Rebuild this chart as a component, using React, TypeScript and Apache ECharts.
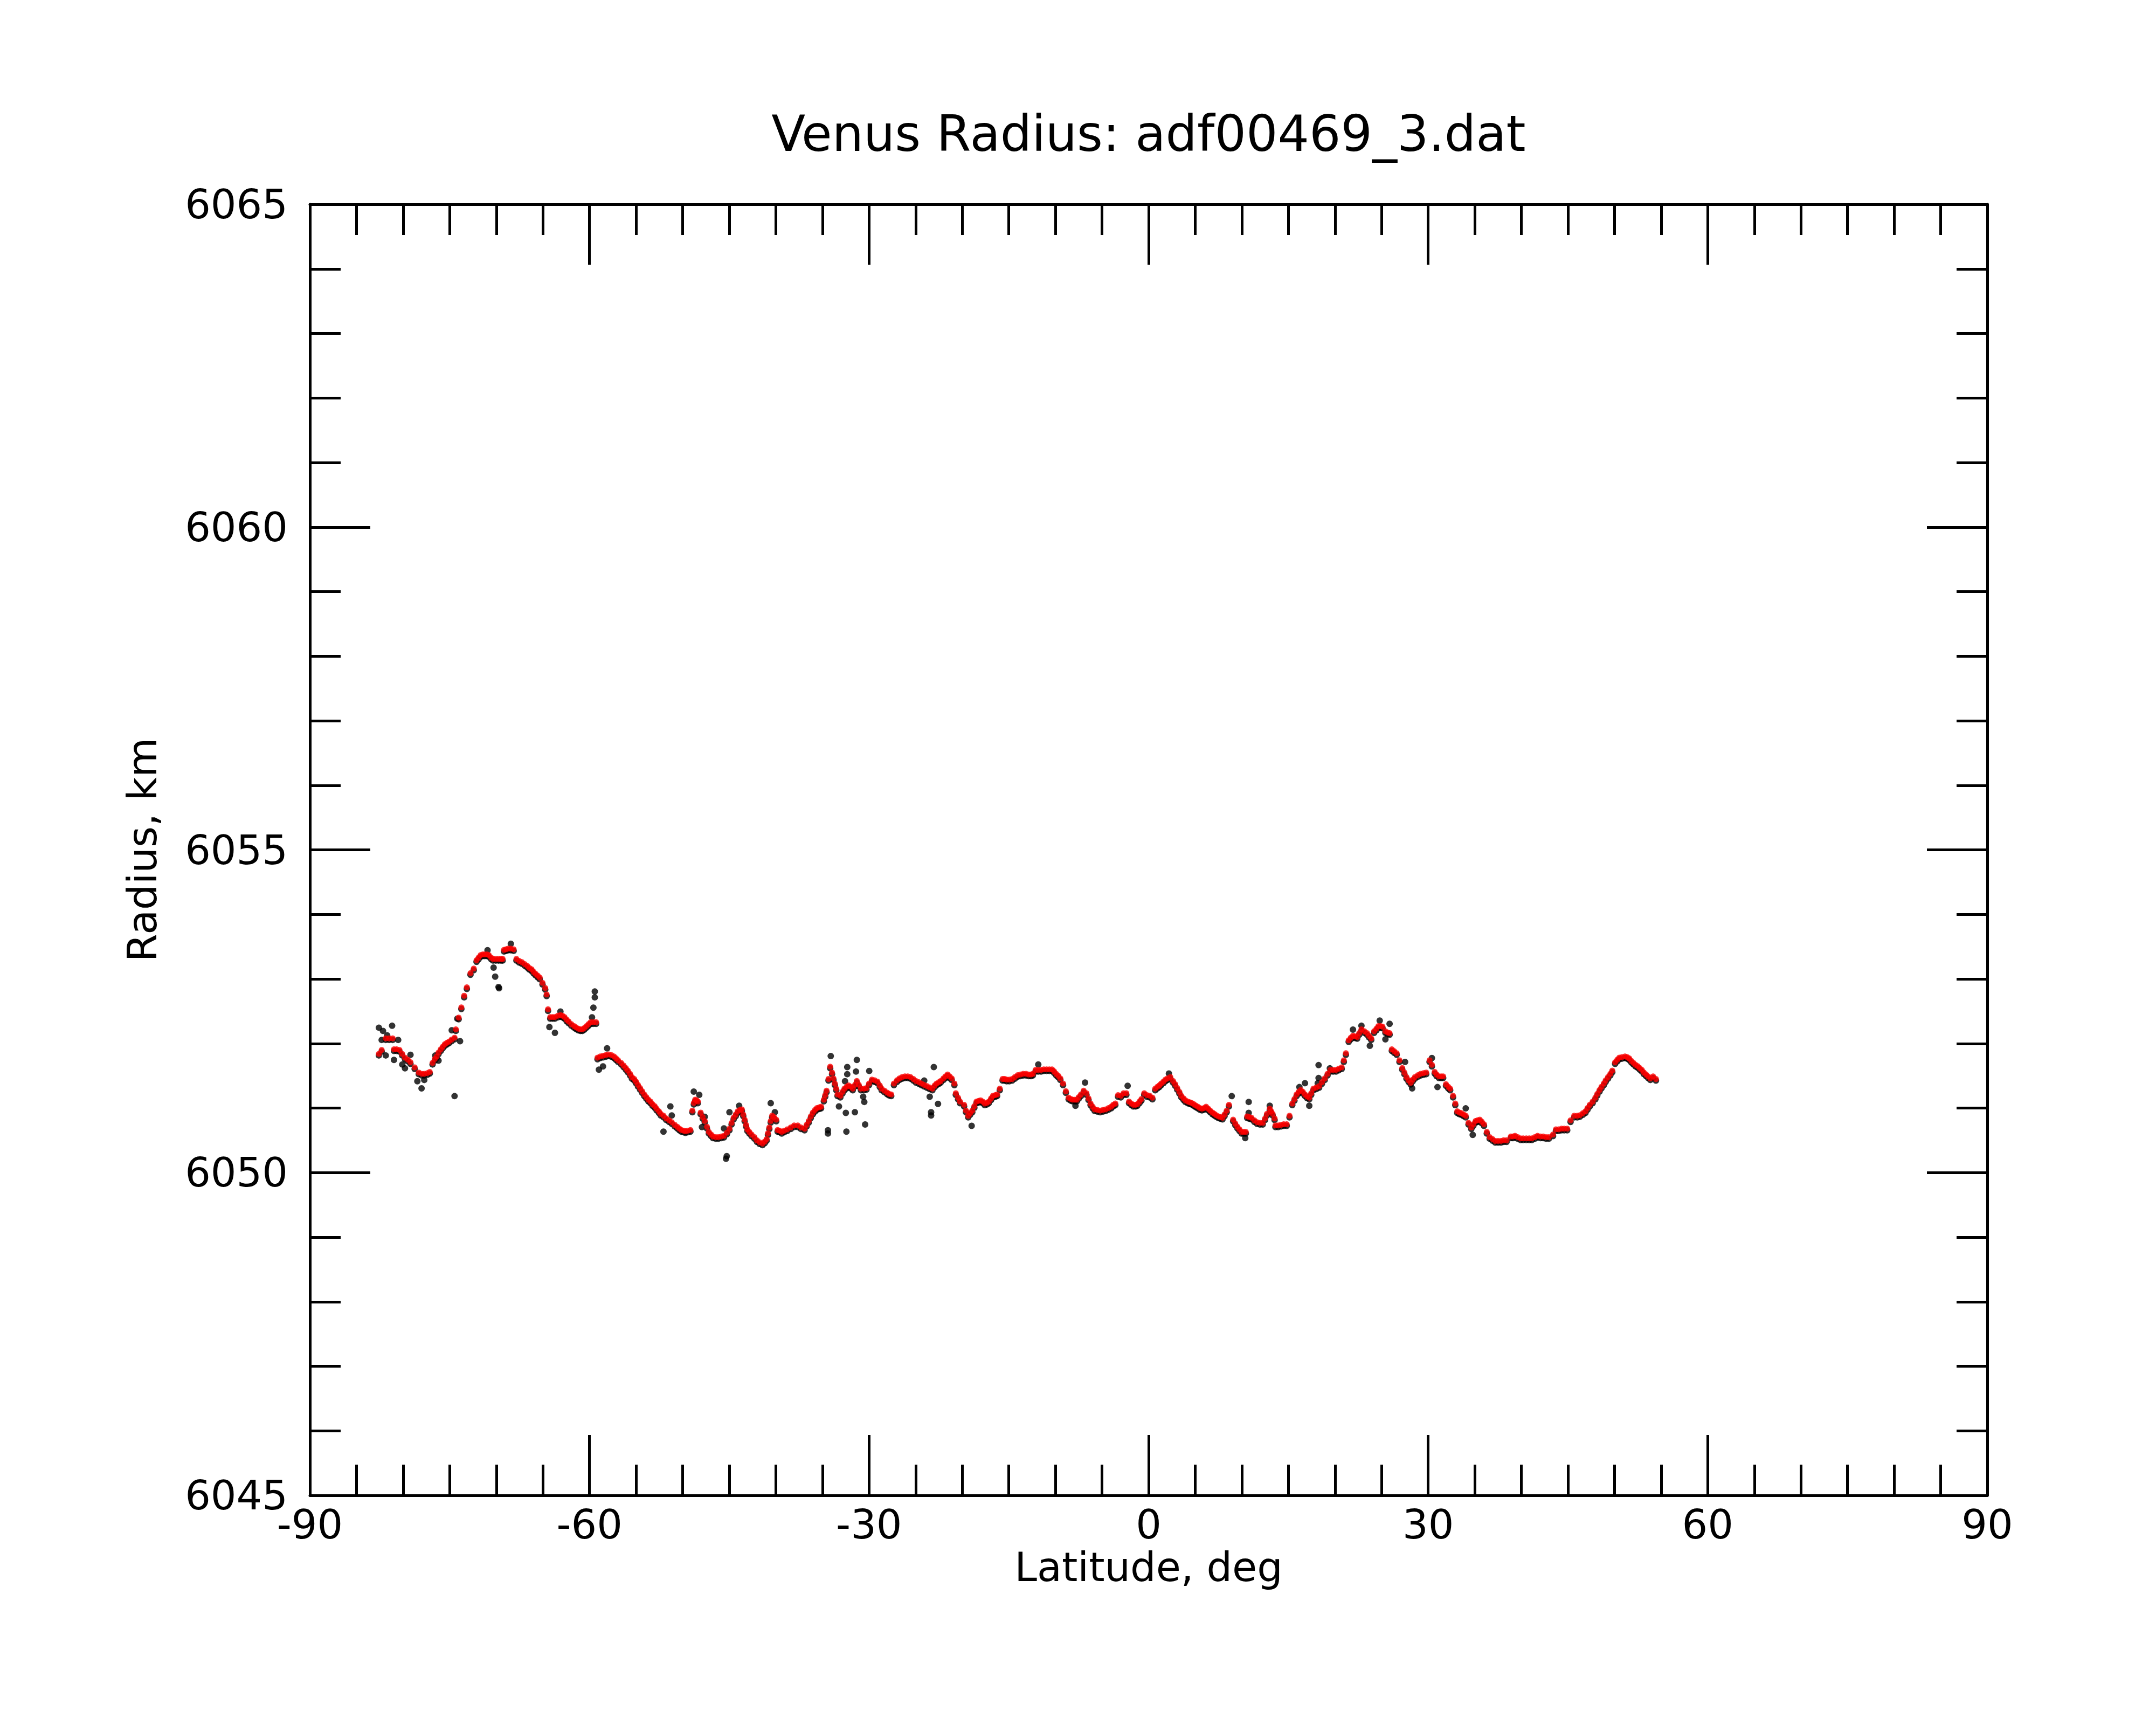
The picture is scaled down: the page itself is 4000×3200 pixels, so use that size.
import React, { useEffect, useRef } from "react";
import * as echarts from "echarts";

const titleText = "Venus Radius: adf00469_3.dat";
const xName = "Latitude, deg";
const yName = "Radius, km";
const xTicks = [-90, -60, -30, 0, 30, 60, 90];
const yTicks = [6045, 6050, 6055, 6060, 6065];

// Smoothed radius profile (red), [latitude, radius km]
const redSouth: number[][] = [
  [-82.6, 6051.84], [-82.3, 6051.9], [-81.86, 6052.08], [-81.5, 6052.08], [-81.12, 6052.08],
  [-80.98, 6051.91], [-80.7, 6051.91], [-80.39, 6051.9], [-80.1, 6051.84], [-79.8, 6051.78],
  [-79.5, 6051.75], [-79.21, 6051.71], [-78.76, 6051.63], [-78.32, 6051.55], [-78.0, 6051.53],
  [-77.73, 6051.53], [-77.4, 6051.54], [-77.14, 6051.56], [-76.84, 6051.7], [-76.6, 6051.76],
  [-76.4, 6051.8], [-76.2, 6051.86], [-75.96, 6051.91], [-75.75, 6051.95], [-75.52, 6051.99],
  [-75.3, 6052.01], [-75.08, 6052.03], [-74.8, 6052.06], [-74.48, 6052.09], [-74.34, 6052.22],
  [-74.04, 6052.4], [-73.75, 6052.56], [-73.45, 6052.74], [-73.16, 6052.87], [-72.77, 6053.09],
  [-72.42, 6053.16], [-72.12, 6053.29], [-71.9, 6053.33], [-71.68, 6053.37], [-71.45, 6053.38],
  [-71.24, 6053.38], [-71.0, 6053.38], [-70.8, 6053.37], [-70.55, 6053.33], [-70.35, 6053.31],
  [-70.05, 6053.31], [-69.76, 6053.31], [-69.5, 6053.31], [-69.32, 6053.31], [-69.17, 6053.45],
  [-68.95, 6053.46], [-68.73, 6053.47], [-68.45, 6053.47], [-68.14, 6053.46], [-67.84, 6053.31],
  [-67.55, 6053.28], [-67.26, 6053.26], [-66.95, 6053.23], [-66.67, 6053.2], [-66.45, 6053.17],
  [-66.22, 6053.15], [-66.0, 6053.11], [-65.78, 6053.08], [-65.55, 6053.05], [-65.34, 6053.02],
  [-65.04, 6052.94], [-64.75, 6052.86], [-64.6, 6052.76], [-64.45, 6052.53], [-64.21, 6052.41],
  [-63.95, 6052.41], [-63.71, 6052.41], [-63.4, 6052.43], [-63.12, 6052.44], [-62.9, 6052.43],
  [-62.68, 6052.41], [-62.45, 6052.37], [-62.24, 6052.34], [-61.95, 6052.3], [-61.65, 6052.27],
  [-61.45, 6052.25], [-61.21, 6052.23], [-60.98, 6052.22], [-60.76, 6052.22], [-60.55, 6052.24],
  [-60.32, 6052.27], [-60.1, 6052.3], [-59.88, 6052.33], [-59.6, 6052.33], [-59.29, 6052.33],
];

const redMid: number[][] = [
  [-59.14, 6051.78], [-58.85, 6051.8], [-58.55, 6051.81], [-58.25, 6051.82], [-57.96, 6051.83],
  [-57.65, 6051.82], [-57.37, 6051.8], [-57.15, 6051.77], [-56.93, 6051.74], [-56.6, 6051.7],
  [-56.34, 6051.66], [-56.1, 6051.62], [-55.89, 6051.58], [-55.65, 6051.53], [-55.45, 6051.48],
  [-55.2, 6051.45], [-55.01, 6051.41], [-54.8, 6051.36], [-54.57, 6051.31], [-54.35, 6051.26],
  [-54.12, 6051.21], [-53.9, 6051.17], [-53.68, 6051.13], [-53.45, 6051.1], [-53.24, 6051.06],
  [-53.0, 6051.03], [-52.8, 6050.99], [-52.55, 6050.95], [-52.35, 6050.91], [-52.05, 6050.88],
  [-51.76, 6050.84], [-51.45, 6050.81], [-51.17, 6050.78], [-50.85, 6050.74], [-50.58, 6050.71],
  [-50.35, 6050.68], [-50.14, 6050.66], [-49.9, 6050.65], [-49.7, 6050.64], [-49.45, 6050.65],
  [-49.17, 6050.66], [-48.96, 6050.96], [-48.8, 6051.08], [-48.66, 6051.13], [-48.5, 6051.12],
  [-48.37, 6051.1], [-48.07, 6050.93], [-47.85, 6050.86], [-47.63, 6050.8], [-47.4, 6050.71],
  [-47.19, 6050.63], [-46.95, 6050.59], [-46.75, 6050.56], [-46.45, 6050.55], [-46.16, 6050.55],
  [-45.85, 6050.56], [-45.57, 6050.57], [-45.25, 6050.62], [-44.98, 6050.68], [-44.75, 6050.77],
  [-44.53, 6050.85], [-44.3, 6050.9], [-44.09, 6050.95], [-43.85, 6050.97], [-43.65, 6050.98],
  [-43.5, 6050.9], [-43.35, 6050.82], [-43.2, 6050.74], [-43.06, 6050.67], [-42.85, 6050.63],
  [-42.61, 6050.59], [-42.3, 6050.55], [-42.03, 6050.5], [-41.75, 6050.47], [-41.44, 6050.45],
  [-41.2, 6050.48], [-40.99, 6050.52], [-40.85, 6050.61], [-40.7, 6050.7], [-40.55, 6050.8],
  [-40.4, 6050.88], [-40.2, 6050.86], [-39.96, 6050.82], [-39.81, 6050.66], [-39.6, 6050.65],
  [-39.37, 6050.63], [-39.1, 6050.65], [-38.78, 6050.67], [-38.4, 6050.7], [-38.04, 6050.73],
  [-37.65, 6050.73], [-37.3, 6050.7], [-36.92, 6050.68], [-36.7, 6050.74], [-36.47, 6050.8],
  [-36.25, 6050.87], [-36.03, 6050.93], [-35.8, 6050.97], [-35.59, 6051.0], [-35.35, 6051.01],
  [-35.15, 6051.02], [-34.85, 6051.13], [-34.7, 6051.2], [-34.56, 6051.27], [-34.35, 6051.45],
  [-34.17, 6051.64], [-33.97, 6051.55], [-33.82, 6051.46], [-33.67, 6051.38], [-33.52, 6051.3],
  [-33.38, 6051.21], [-33.08, 6051.19], [-32.85, 6051.25], [-32.64, 6051.3], [-32.4, 6051.33],
  [-32.2, 6051.35], [-31.95, 6051.33], [-31.75, 6051.3], [-31.5, 6051.36], [-31.31, 6051.42],
  [-31.1, 6051.36], [-30.87, 6051.3], [-30.55, 6051.3], [-30.28, 6051.31], [-30.0, 6051.38],
  [-29.69, 6051.44], [-29.4, 6051.43], [-29.1, 6051.41], [-28.85, 6051.35], [-28.65, 6051.3],
  [-28.35, 6051.27], [-28.06, 6051.24], [-27.85, 6051.22], [-27.62, 6051.21], [-27.33, 6051.38],
  [-27.0, 6051.43], [-26.74, 6051.46], [-26.45, 6051.48], [-26.15, 6051.49], [-25.85, 6051.49],
  [-25.56, 6051.48], [-25.25, 6051.45], [-24.97, 6051.42], [-24.65, 6051.4], [-24.38, 6051.38],
  [-24.1, 6051.36], [-23.79, 6051.34], [-23.5, 6051.32], [-23.2, 6051.3], [-22.95, 6051.35],
  [-22.75, 6051.38], [-22.5, 6051.4], [-22.31, 6051.42], [-22.02, 6051.46], [-21.8, 6051.49],
  [-21.57, 6051.52], [-21.35, 6051.49], [-21.13, 6051.46], [-20.84, 6051.38], [-20.69, 6051.23],
  [-20.45, 6051.16], [-20.24, 6051.1], [-19.8, 6051.05], [-19.6, 6050.96], [-19.36, 6050.88],
  [-19.15, 6050.92], [-18.92, 6050.96], [-18.7, 6051.03], [-18.47, 6051.1], [-18.25, 6051.11],
  [-18.03, 6051.12], [-17.8, 6051.1], [-17.59, 6051.07], [-17.35, 6051.08], [-17.15, 6051.1],
  [-16.9, 6051.15], [-16.7, 6051.19], [-16.45, 6051.2], [-16.26, 6051.21], [-15.97, 6051.3],
  [-15.67, 6051.45], [-15.45, 6051.45], [-15.23, 6051.44], [-14.95, 6051.44], [-14.64, 6051.45],
  [-14.35, 6051.48], [-14.05, 6051.51], [-13.75, 6051.52], [-13.46, 6051.53], [-13.15, 6051.53],
  [-12.87, 6051.52], [-12.62, 6051.52], [-12.42, 6051.53], [-12.13, 6051.59], [-11.85, 6051.59],
  [-11.54, 6051.59], [-11.25, 6051.6], [-10.95, 6051.6], [-10.65, 6051.6], [-10.36, 6051.6],
  [-10.15, 6051.57], [-9.92, 6051.53], [-9.7, 6051.5], [-9.47, 6051.46], [-9.18, 6051.38],
  [-8.88, 6051.26], [-8.58, 6051.16], [-8.35, 6051.14], [-8.15, 6051.13], [-7.9, 6051.13],
  [-7.7, 6051.13], [-7.5, 6051.17], [-7.26, 6051.21], [-6.97, 6051.27], [-6.67, 6051.23],
  [-6.45, 6051.15], [-6.23, 6051.07], [-6.0, 6051.02], [-5.79, 6050.98], [-5.5, 6050.97],
  [-5.2, 6050.96], [-4.9, 6050.97], [-4.61, 6050.98], [-4.3, 6051.0], [-4.02, 6051.02],
  [-3.8, 6051.05], [-3.57, 6051.07], [-3.28, 6051.2], [-2.98, 6051.19], [-2.69, 6051.23],
  [-2.39, 6051.23], [-2.1, 6051.1], [-1.85, 6051.07], [-1.65, 6051.05], [-1.4, 6051.05],
  [-1.21, 6051.06], [-0.98, 6051.1], [-0.77, 6051.14], [-0.47, 6051.23], [-0.18, 6051.2],
  [0.12, 6051.19], [0.41, 6051.16], [0.71, 6051.3], [0.95, 6051.33], [1.15, 6051.35],
  [1.35, 6051.38], [1.59, 6051.41], [1.8, 6051.44], [2.03, 6051.46], [2.33, 6051.48],
  [2.62, 6051.42], [2.85, 6051.37], [3.07, 6051.31], [3.3, 6051.25], [3.51, 6051.19],
  [3.75, 6051.15], [3.95, 6051.12], [4.2, 6051.1], [4.4, 6051.09], [4.6, 6051.08],
  [4.84, 6051.06], [5.05, 6051.04], [5.28, 6051.02], [5.5, 6051.0], [5.72, 6050.99],
  [5.95, 6051.0], [6.17, 6051.02], [6.4, 6050.99], [6.61, 6050.96], [6.85, 6050.93],
  [7.05, 6050.91], [7.25, 6050.89], [7.49, 6050.87], [7.7, 6050.86], [7.93, 6050.85],
  [8.15, 6050.9], [8.38, 6050.96], [8.62, 6051.05],
];

const redNorth: number[][] = [
  [9.07, 6050.82], [9.3, 6050.76], [9.53, 6050.71], [9.75, 6050.67], [9.98, 6050.63],
  [10.2, 6050.63], [10.43, 6050.63], [10.58, 6050.87], [10.8, 6050.86], [11.04, 6050.85],
  [11.35, 6050.81], [11.64, 6050.78], [11.95, 6050.77], [12.25, 6050.77], [12.5, 6050.84],
  [12.7, 6050.91], [13.0, 6050.99], [13.15, 6050.95], [13.31, 6050.91], [13.52, 6050.84],
  [13.61, 6050.73], [13.9, 6050.73], [14.21, 6050.74], [14.5, 6050.75], [14.82, 6050.75],
  [15.12, 6050.88], [15.42, 6051.07], [15.65, 6051.14], [15.88, 6051.21], [16.1, 6051.25],
  [16.33, 6051.28], [16.55, 6051.25], [16.78, 6051.21], [17.0, 6051.18], [17.24, 6051.16],
  [17.45, 6051.23], [17.69, 6051.3], [18.0, 6051.32], [18.3, 6051.34], [18.6, 6051.4],
  [18.9, 6051.46], [19.2, 6051.53], [19.51, 6051.59], [19.8, 6051.59], [20.11, 6051.59],
  [20.4, 6051.61], [20.72, 6051.63], [20.95, 6051.74], [21.17, 6051.85], [21.47, 6052.05],
  [21.7, 6052.09], [21.93, 6052.12], [22.15, 6052.11], [22.38, 6052.1], [22.6, 6052.16],
  [22.84, 6052.22], [23.15, 6052.19], [23.44, 6052.16], [23.65, 6052.12], [23.89, 6052.08],
  [24.2, 6052.19], [24.45, 6052.23], [24.65, 6052.27], [24.9, 6052.27], [25.1, 6052.26],
  [25.41, 6052.19], [25.65, 6052.17], [25.86, 6052.16],
  [26.1, 6051.91], [26.35, 6051.88], [26.62, 6051.85], [26.92, 6051.74], [27.22, 6051.62],
  [27.45, 6051.55], [27.67, 6051.48], [27.9, 6051.43], [28.13, 6051.39], [28.35, 6051.44],
  [28.58, 6051.48], [28.9, 6051.51], [29.19, 6051.53], [29.5, 6051.54], [29.79, 6051.55],
  [30.15, 6051.74], [30.4, 6051.67], [30.7, 6051.56], [30.9, 6051.52], [31.15, 6051.49],
  [31.4, 6051.49], [31.61, 6051.49], [31.91, 6051.37], [32.15, 6051.33], [32.36, 6051.3],
  [32.67, 6051.19], [32.91, 6051.07], [33.12, 6050.95], [33.35, 6050.93], [33.57, 6050.92],
  [33.8, 6050.9], [34.03, 6050.88], [34.33, 6050.77], [34.63, 6050.7], [34.85, 6050.75],
  [35.09, 6050.8], [35.3, 6050.81], [35.54, 6050.82], [35.75, 6050.79], [35.99, 6050.75],
  [36.29, 6050.63], [36.6, 6050.55], [36.9, 6050.52], [37.2, 6050.49], [37.5, 6050.49],
  [37.81, 6050.49], [38.1, 6050.5], [38.41, 6050.5], [38.87, 6050.56], [39.1, 6050.56],
  [39.32, 6050.57], [39.6, 6050.55], [39.92, 6050.53], [40.2, 6050.53], [40.53, 6050.53],
  [40.85, 6050.53], [41.13, 6050.53], [41.45, 6050.55], [41.74, 6050.57], [42.05, 6050.56],
  [42.34, 6050.56], [42.65, 6050.55], [42.95, 6050.55], [43.4, 6050.59], [43.71, 6050.67],
  [44.0, 6050.67], [44.31, 6050.68], [44.6, 6050.68], [44.92, 6050.68], [45.28, 6050.81],
  [45.67, 6050.88], [46.0, 6050.88], [46.28, 6050.89], [46.6, 6050.92], [46.88, 6050.95],
  [47.1, 6051.0], [47.34, 6051.05], [47.65, 6051.1], [47.94, 6051.16], [48.15, 6051.22],
  [48.39, 6051.28], [48.6, 6051.33], [48.85, 6051.38], [49.05, 6051.43], [49.3, 6051.48],
  [49.55, 6051.53], [49.76, 6051.58], [50.06, 6051.71], [50.3, 6051.75], [50.51, 6051.78],
  [50.8, 6051.79], [51.12, 6051.8], [51.35, 6051.79], [51.57, 6051.77], [51.8, 6051.73],
  [52.03, 6051.7], [52.25, 6051.67], [52.48, 6051.65], [52.7, 6051.62], [52.93, 6051.59],
  [53.15, 6051.55], [53.38, 6051.52], [53.6, 6051.49], [53.84, 6051.46], [54.14, 6051.49],
  [54.44, 6051.45],
];

// Raw measurements departing from the smoothed profile (black)
const blackOutliers: number[][] = [
  [-82.6, 6052.27], [-82.16, 6052.22], [-81.18, 6052.3], [-81.71, 6052.15], [-82.3, 6052.08],
  [-80.53, 6052.08], [-81.86, 6051.84], [-80.98, 6051.77], [-80.09, 6051.7], [-79.8, 6051.64],
  [-79.21, 6051.85], [-78.47, 6051.44], [-78.02, 6051.33], [-77.73, 6051.46], [-74.48, 6051.21],
  [-74.78, 6052.23], [-74.19, 6052.41], [-73.89, 6052.06], [-76.55, 6051.84], [-76.2, 6051.76],
  [-70.29, 6053.2], [-70.12, 6053.06], [-69.76, 6052.9], [-69.7, 6052.88], [-68.44, 6053.57],
  [-70.94, 6053.47], [-64.3, 6052.28], [-63.71, 6052.19], [-63.12, 6052.52], [-59.43, 6052.83],
  [-59.43, 6052.74], [-59.58, 6052.58], [-59.73, 6052.43], [-58.11, 6051.95], [-58.99, 6051.62],
  [-58.55, 6051.67], [-51.32, 6051.05], [-51.17, 6050.91], [-52.06, 6050.66], [-48.81, 6051.28],
  [-48.22, 6051.23], [-47.63, 6050.89], [-47.93, 6050.73], [-45.27, 6050.28], [-45.35, 6050.24],
  [-45.57, 6050.71], [-44.98, 6050.96], [-43.94, 6051.06], [-40.55, 6051.1], [-40.11, 6050.96],
  [-34.11, 6051.83], [-34.41, 6050.68], [-34.41, 6050.63], [-32.43, 6050.66], [-32.49, 6050.95],
  [-31.52, 6050.96], [-30.42, 6050.77], [-30.51, 6051.12], [-30.63, 6051.2], [-31.31, 6051.77],
  [-32.34, 6051.66], [-32.34, 6051.55], [-32.58, 6051.44], [-31.4, 6051.59], [-29.98, 6051.6],
  [-33.23, 6051.05], [-23.34, 6050.96], [-23.34, 6050.91], [-22.6, 6051.09], [-23.05, 6051.66],
  [-23.49, 6051.2], [-24.08, 6051.45], [-18.99, 6050.75], [-11.84, 6051.7], [-6.82, 6051.42],
  [-2.25, 6051.37], [-7.85, 6051.06], [2.18, 6051.56], [8.92, 6051.21], [10.74, 6051.12],
  [10.74, 6050.95], [13.0, 6051.06], [10.37, 6050.56], [16.18, 6051.35], [16.78, 6051.41],
  [17.24, 6051.06], [18.24, 6051.69], [18.24, 6051.49], [18.15, 6051.41], [19.45, 6051.64],
  [21.93, 6052.24], [22.84, 6052.3], [24.8, 6052.38], [25.86, 6052.33], [23.74, 6051.99],
  [25.41, 6052.09], [27.52, 6051.74], [30.4, 6051.8], [28.28, 6051.33], [31.0, 6051.35],
  [34.03, 6051.02], [34.78, 6050.61],
];

const FONT = "'DejaVu Sans', sans-serif";
const BLACK = "#000000";

function axisCommon(showLabels: boolean) {
  return {
    axisLine: { show: true, onZero: false, lineStyle: { color: BLACK, width: 5 } },
    axisTick: { show: true, inside: true, length: 112, lineStyle: { color: BLACK, width: 5 } },
    minorTick: { show: true, length: 57, lineStyle: { color: BLACK, width: 5 } },
    splitLine: { show: false },
    minorSplitLine: { show: false },
    axisLabel: {
      show: showLabels,
      color: BLACK,
      fontSize: 75,
      fontFamily: FONT,
    },
  };
}

export default function App() {
  const ref = useRef<HTMLDivElement>(null);
  useEffect(() => {
    if (!ref.current) return;
    const chart = echarts.init(ref.current, null, { renderer: "svg" });
    const xBase = (pos: string, labels: boolean) => {
      const c: any = axisCommon(labels);
      c.minorTick.splitNumber = 6;
      c.axisLabel.margin = 16;
      c.axisLabel.formatter = (v: number) => (xTicks.includes(v) ? String(v) : "");
      return {
        type: "value",
        position: pos,
        min: xTicks[0],
        max: xTicks[xTicks.length - 1],
        interval: 30,
        ...c,
      };
    };
    const yBase = (pos: string, labels: boolean) => {
      const c: any = axisCommon(labels);
      c.minorTick.splitNumber = 5;
      c.axisLabel.margin = 41;
      c.axisLabel.formatter = (v: number) => (yTicks.includes(v) ? String(v) : "");
      return {
        type: "value",
        position: pos,
        min: yTicks[0],
        max: yTicks[yTicks.length - 1],
        interval: 5,
        ...c,
      };
    };
    const redData = [...redSouth, ...redMid, ...redNorth];
    const blackData = [...redData, ...blackOutliers];
    chart.setOption({
      animation: false,
      backgroundColor: "#ffffff",
      title: {
        text: titleText,
        left: 2131,
        textAlign: "center",
        top: 202,
        padding: 0,
        textStyle: {
          color: BLACK,
          fontSize: 92,
          fontWeight: "normal",
          fontFamily: FONT,
          lineHeight: 92,
        },
      },
      grid: { left: 575, right: 313, top: 379, bottom: 426, containLabel: false },
      xAxis: [
        {
          ...xBase("bottom", true),
          name: xName,
          nameLocation: "middle",
          nameGap: 92,
          nameTextStyle: { color: BLACK, fontSize: 75, fontFamily: FONT },
        },
        xBase("top", false),
      ],
      yAxis: [
        {
          ...yBase("left", true),
          name: yName,
          nameLocation: "middle",
          nameGap: 274,
          nameTextStyle: { color: BLACK, fontSize: 75, fontFamily: FONT },
        },
        yBase("right", false),
      ],
      series: [
        {
          type: "scatter",
          xAxisIndex: 0,
          yAxisIndex: 0,
          data: blackData,
          symbol: "circle",
          symbolSize: 12,
          symbolOffset: [0, 3],
          itemStyle: { color: BLACK },
          silent: true,
        },
        {
          type: "scatter",
          xAxisIndex: 0,
          yAxisIndex: 0,
          data: redData,
          symbol: "circle",
          symbolSize: 11,
          itemStyle: { color: "#ff0000" },
          silent: true,
        },
      ],
    });
    return () => chart.dispose();
  }, []);
  return (
    <div
      ref={ref}
      style={{ position: "fixed", left: 0, top: 0, width: 4000, height: 3200, background: "#fff" }}
    />
  );
}
